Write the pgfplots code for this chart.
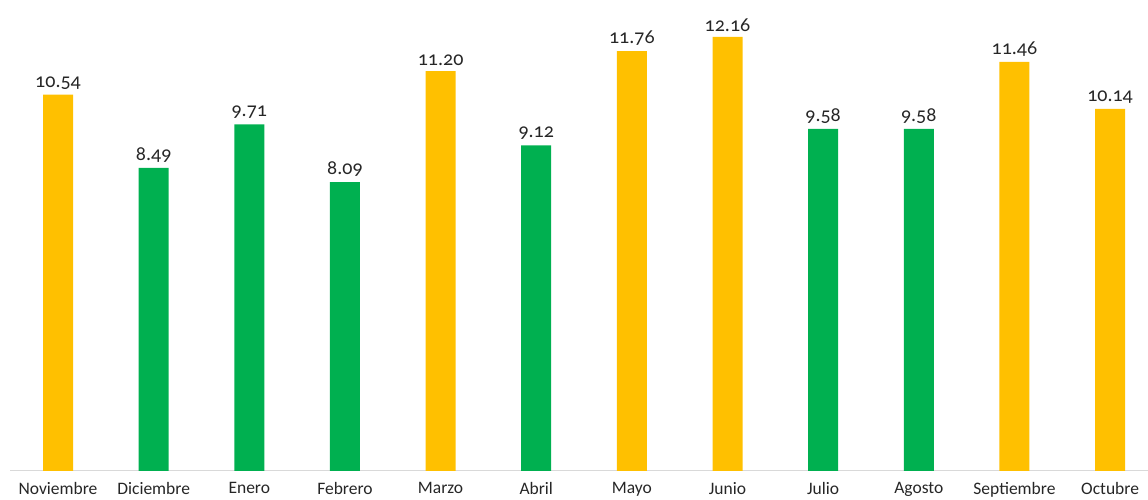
\documentclass[border=0pt]{standalone}
\usepackage{fontspec}
\setmainfont[Numbers=OldStyle]{Carlito}
\usepackage{pgfplots}
\pgfplotsset{compat=1.18}
\definecolor{cyel}{HTML}{FFC000}
\definecolor{cgrn}{HTML}{00B050}
\definecolor{axgray}{HTML}{D9D9D9}
\begin{document}
\begin{tikzpicture}
\useasboundingbox (-10.2pt,-29pt) rectangle (1137.8pt,471pt);
\begin{axis}[
  at={(0,0)}, anchor=south west,
  scale only axis,
  width=1147.7pt, height=471pt,
  xmin=-0.5, xmax=11.5, ymin=0, ymax=13.19,
  axis x line=bottom, axis y line=none,
  axis line style={draw=axgray, line width=1pt, -},
  xtick={0,1,2,3,4,5,6,7,8,9,10,11},
  xticklabels={Noviembre,Diciembre,Enero,Febrero,Marzo,Abril,Mayo,Junio,Julio,Agosto,Septiembre,Octubre},
  major tick length=0pt,
  xticklabel style={font=\fontsize{17.5}{20}\selectfont, text=black!85, yshift=-8pt},
  ytick=\empty,
  ybar, bar width=30pt, bar shift=0pt,
  clip=false,
  nodes near coords,
  /pgf/number format/.cd, fixed, fixed zerofill, precision=2, assume math mode=true,
  /pgfplots/.cd,
  every node near coord/.append style={font=\fontsize{20}{23}\selectfont, text=black!85, yshift=2pt},
]
\addplot[fill=cyel, draw=none] coordinates {(0,10.54) (4,11.20) (6,11.76) (7,12.16) (10,11.46) (11,10.14)};
\addplot[fill=cgrn, draw=none] coordinates {(1,8.49) (2,9.71) (3,8.09) (5,9.12) (8,9.58) (9,9.58)};
\end{axis}
\end{tikzpicture}
\end{document}
